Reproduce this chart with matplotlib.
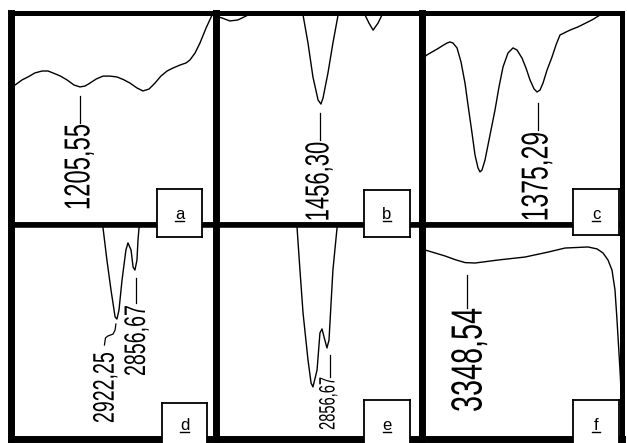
import matplotlib
matplotlib.use("Agg")
import matplotlib.pyplot as plt
from matplotlib.patheffects import AbstractPathEffect
from matplotlib.transforms import Affine2D

W, H = 627, 443

# curves: x in % of panel width, y in % of panel height (100 = top edge)
a_x = [0, 2.0, 5.4, 8.3, 11.7, 15.2, 18.1, 20.5, 24.0, 27.4, 30.8, 33.7, 36.2, 38.6, 41.6, 45.0, 48.4,
       51.8, 55.3, 58.2, 61.6, 64.5, 67.5, 70.4, 73.3, 76.3, 79.2, 82.6, 85.6, 87.5, 90.0, 92.4, 95.4,
       98.3, 100.2]
a_y = [65.3, 65.8, 68.2, 69.6, 71.5, 72.4, 72.4, 71.5, 70.1, 68.2, 65.8, 64.9, 65.3, 66.7, 68.6, 70.0, 70.0,
       69.6, 68.2, 66.7, 64.4, 63.0, 63.9, 66.7, 70.0, 72.4, 73.8, 75.2, 76.2, 77.6, 80.9, 85.6, 92.7,
       98.8, 103.1]

b_x = [0, 3.2, 7.0, 10.9, 15.8, 19.2, 30, 41.5, 42.5, 44.9, 47.3, 49.8, 51.2, 52.2, 54.6, 57.0, 59.5, 60.4,
       66, 72.1, 72.6, 74.5, 76.5, 78.9, 80.8, 81.3, 95]
b_y = [98.3, 97.4, 96.0, 96.5, 98.8, 102.1, 115, 103.5, 98.8, 85.6, 69.6, 58.7, 56.8, 59.7, 71.5, 85.6, 98.8, 103.5,
       115, 102.1, 98.8, 95.0, 91.7, 95.0, 98.8, 102.1, 115]

c_x = [0.75, 2.75, 8.25, 10.25, 12.75, 14.25, 15.75, 17.75, 19.75, 21.75, 23.25, 25.25, 26.75, 28.25, 29.25,
       30.25, 31.75, 34.25, 36.75, 38.75, 40.75, 43.25, 45.75, 47.75, 50.25, 52.25, 54.25, 56.25, 57.75,
       59.25, 60.75, 62.75, 65.25, 67.25, 69.25, 74.25, 78.25, 85.25, 89.25, 92.25]
c_y = [78.5, 80.0, 83.0, 84.2, 85.6, 86.1, 85.6, 83.3, 76.7, 66.7, 56.4, 43.2, 32.8, 26.7, 24.8,
       25.7, 30.4, 42.2, 54.0, 64.9, 74.3, 80.9, 83.3, 82.3, 78.5, 73.8, 68.2, 64.0, 62.5,
       63.4, 66.7, 72.8, 79.0, 84.7, 89.4, 91.7, 93.2, 96.5, 98.8, 102.1]

d_x = [44.5, 45.0, 46.9, 48.9, 50.9, 51.8, 52.8, 54.3, 56.2, 57.2, 58.7, 59.7, 60.6, 61.6, 62.1, 62.6, 63.1]
d_y = [102.1, 98.4, 83.4, 69.4, 56.8, 55.8, 60.0, 74.1, 88.1, 91.4, 88.1, 80.1, 78.7, 83.4, 92.8, 98.4, 102.1]

e_x = [39.1, 39.6, 41.0, 42.5, 44.9, 46.4, 47.3, 49.3, 50.7, 51.7, 52.7, 54.1, 55.1, 56.1, 57.0, 59.0, 59.5]
e_y = [102.1, 98.4, 78.7, 58.6, 36.7, 25.9, 24.1, 32.0, 49.3, 51.2, 47.4, 42.3, 46.0, 63.3, 78.7, 98.4, 102.1]

f_x = [-0.25, 1.75, 6.75, 11.75, 16.75, 21.75, 26.75, 29.25, 38.25, 51.75, 63.25, 71.75, 83.25, 87.75,
       90.75, 93.25, 95.25, 96.75, 97.75, 99.25, 100.25, 101.25]
f_y = [88.6, 88.1, 86.7, 85.3, 83.6, 82.2, 82.0, 82.3, 83.4, 84.8, 87.1, 89.0, 89.5, 88.6,
       86.7, 83.4, 78.7, 69.4, 55.4, 32.0, 13.3, -0.7]

panel_letters = ["a", "b", "c", "d", "e", "f"]
peak_labels = [["1205,55"], ["1456,30"], ["1375,29"], ["2922,25", "2856,67"], ["2856,67"], ["3348,54"]]
curves = [(a_x, a_y), (b_x, b_y), (c_x, c_y), (d_x, d_y), (e_x, e_y), (f_x, f_y)]

# label anchor (x centre, y bottom) in panel %, font size
label_pos = [[(33.7, 6.8, 26)], [(50.7, 1.5, 24)], [(58.0, 1.5, 27)],
             [(46.3, 7.2, 21.4), (61.6, 29.2, 21.4)], [(55.1, 4.0, 16)], [(24.3, 12.4, 31.4)]]
# leader lines (x, y pairs in panel %) from label top toward the band
leaders = [[([33.7, 33.7], [47.9, 60.6])],
           [([50.7, 50.7], [39.9, 52.6])],
           [([58.0, 58.0], [44.6, 57.3])],
           [([45.7, 46.2, 47.4, 49.9, 50.9, 51.3], [43.7, 47.0, 47.9, 48.8, 50.7, 53.5]),
            ([61.1, 61.1], [63.3, 75.0])],
           [([55.6, 55.6], [28.7, 39.0])],
           [([22.8, 22.8], [61.0, 76.4])]]

# frame geometry in pixels
cols = [11, 215.5, 421.5, 621.5]
rows = [12.5, 224.5, 438.5]
boxes = [(157, 189, 202, 237), (364, 190, 410, 237), (573, 189, 619, 235),
         (162, 403, 207, 447), (364, 400, 410, 447), (573, 400, 619, 447)]


class Squeeze(AbstractPathEffect):
    # narrow the (vertical) labels like the condensed font of the scan
    def __init__(self, text, s):
        super().__init__()
        self.text = text
        self.s = s

    def draw_path(self, renderer, gc, tpath, affine, rgbFace=None):
        cx, cy = self.text.get_transform().transform(self.text.get_position())
        t = affine + Affine2D().translate(-cx, -cy).scale(1, self.s).translate(cx, cy)
        renderer.draw_path(gc, tpath, t, rgbFace)


def rect(x0, y0, x1, y1):
    return [x0 / W, 1 - y1 / H, (x1 - x0) / W, (y1 - y0) / H]


fig = plt.figure(figsize=(W / 100, H / 100), dpi=100)

for i in range(6):
    r, c = divmod(i, 3)
    ax = fig.add_axes(rect(cols[c], rows[r], cols[c + 1], rows[r + 1]))
    ax.set_xlim(0, 100)
    ax.set_ylim(0, 100)
    ax.set_xticks([])
    ax.set_yticks([])
    ax.plot(curves[i][0], curves[i][1], color="black", lw=1.0, solid_joinstyle="round")
    lw = {"left": 5.0, "right": 5.0, "top": 4.0, "bottom": 4.0}
    if r == 0:
        lw["top"] = 3.6
    if r == 1:
        lw["bottom"] = 5.0
    if c == 2:
        lw["right"] = 3.6
    for side, w in lw.items():
        ax.spines[side].set_linewidth(w)
        ax.spines[side].set_capstyle("projecting")
    for txt, (lx, ly, fs) in zip(peak_labels[i], label_pos[i]):
        t = ax.text(lx, ly, txt, rotation=90, ha="center", va="bottom", fontsize=fs,
                    family="Liberation Sans")
        t.set_path_effects([Squeeze(t, 0.66)])
    for lx, ly in leaders[i]:
        ax.plot(lx, ly, color="black", lw=0.9)

for i, (x0, y0, x1, y1) in enumerate(boxes):
    bx = fig.add_axes(rect(x0, y0, x1, y1), zorder=5)
    bx.set_xlim(0, 1)
    bx.set_ylim(0, 1)
    bx.set_xticks([])
    bx.set_yticks([])
    bx.set_facecolor("white")
    for s in bx.spines.values():
        s.set_linewidth(1.3)
    base = (y1 - 219) / (y1 - y0) if i < 3 else (y1 - 430) / (y1 - y0)
    bx.text(0.5, base, panel_letters[i], ha="center", va="baseline", fontsize=12, family="Liberation Sans")
    bx.plot([0.41, 0.59], [base - 0.05, base - 0.05], color="black", lw=1.0)

fig.savefig("out.png", dpi=100)
